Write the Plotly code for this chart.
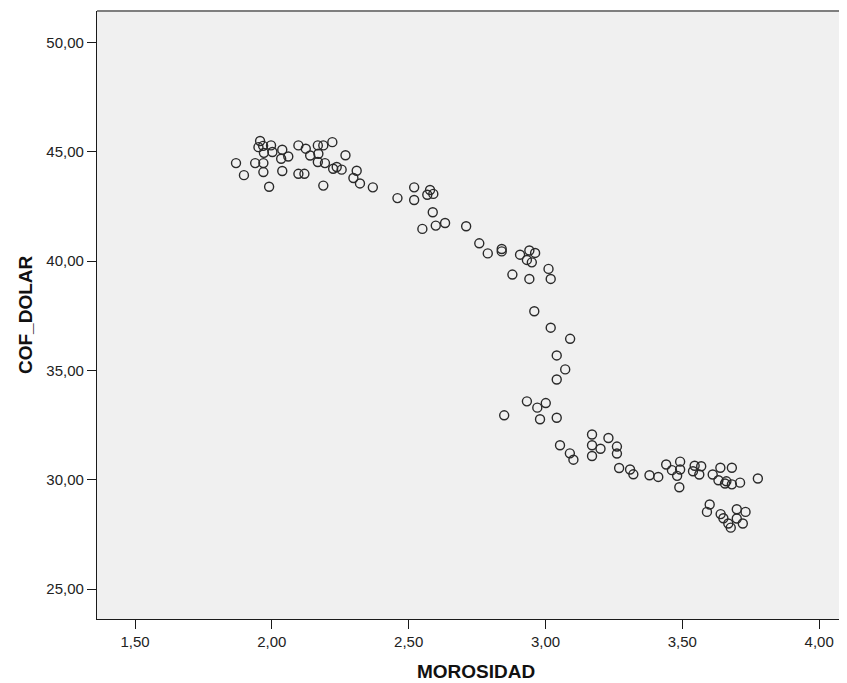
import plotly.graph_objects as go

# MOROSIDAD (x) and COF_DOLAR (y) values
morosidad = [
    1.869, 1.898, 1.939, 1.957, 1.951, 1.968, 1.971, 1.969, 1.969, 1.990,
    1.997, 2.002, 2.038, 2.034, 2.060, 2.038, 2.097, 2.124, 2.140, 2.097,
    2.119, 2.168, 2.188, 2.221, 2.170, 2.168, 2.194, 2.188, 2.224, 2.237,
    2.255, 2.269, 2.310, 2.298, 2.322, 2.369, 2.459, 2.520, 2.520, 2.578,
    2.568, 2.590, 2.588, 2.550, 2.599, 2.633, 2.710, 2.758, 2.789, 2.840,
    2.840, 2.907, 2.941, 2.962, 2.932, 2.950, 2.879, 2.941, 3.011, 3.019,
    2.959, 3.019, 3.090, 3.041, 3.072, 3.041, 2.932, 2.970, 3.001, 2.849,
    2.980, 3.041, 3.170, 3.230, 3.170, 3.201, 3.170, 3.053, 3.089, 3.102,
    3.261, 3.261, 3.269, 3.309, 3.321, 3.380, 3.412, 3.441, 3.462, 3.492,
    3.492, 3.481, 3.489, 3.545, 3.569, 3.539, 3.562, 3.611, 3.639, 3.681,
    3.632, 3.656, 3.661, 3.681, 3.711, 3.776, 3.600, 3.590, 3.640, 3.650,
    3.668, 3.677, 3.699, 3.731, 3.699, 3.721,
]
cof_dolar = [
    44.49, 43.94, 44.49, 45.50, 45.22, 45.28, 44.96, 44.49, 44.08, 43.41,
    45.30, 45.00, 45.10, 44.69, 44.79, 44.13, 45.30, 45.15, 44.84, 44.00,
    44.00, 45.30, 45.30, 45.45, 44.92, 44.54, 44.49, 43.46, 44.23, 44.31,
    44.19, 44.85, 44.14, 43.81, 43.56, 43.38, 42.89, 43.38, 42.80, 43.26,
    43.04, 43.08, 42.24, 41.48, 41.63, 41.75, 41.60, 40.82, 40.36, 40.56,
    40.45, 40.30, 40.49, 40.38, 40.06, 39.95, 39.39, 39.19, 39.65, 39.19,
    37.71, 36.96, 36.45, 35.69, 35.05, 34.59, 33.59, 33.30, 33.51, 32.95,
    32.77, 32.84, 32.07, 31.91, 31.58, 31.42, 31.09, 31.58, 31.21, 30.92,
    31.52, 31.20, 30.54, 30.47, 30.25, 30.21, 30.13, 30.70, 30.44, 30.83,
    30.47, 30.18, 29.66, 30.64, 30.62, 30.39, 30.24, 30.24, 30.55, 30.55,
    29.98, 29.83, 29.93, 29.79, 29.87, 30.06, 28.87, 28.53, 28.43, 28.24,
    28.00, 27.81, 28.65, 28.53, 28.23, 28.00,
]

x_ticks = [1.5, 2.0, 2.5, 3.0, 3.5, 4.0]
y_ticks = [25, 30, 35, 40, 45, 50]
x_title = "MOROSIDAD"
y_title = "COF_DOLAR"

FONT = "Liberation Sans, Arial, sans-serif"

fig = go.Figure()
fig.add_trace(go.Scatter(
    x=morosidad, y=cof_dolar, mode="markers",
    marker=dict(symbol="circle-open", size=9, color="#2a2a2a",
                line=dict(width=1.4, color="#2a2a2a")),
    showlegend=False, hoverinfo="x+y",
))

fig.update_layout(
    width=855, height=675,
    margin=dict(l=89, r=8, t=3, b=64),
    paper_bgcolor="white",
    plot_bgcolor="#f0f0f0",
    separators=",.",
    font=dict(family=FONT, size=15, color="#222222"),
    xaxis=dict(
        range=[1.361, 4.131], tickvals=x_ticks, tickformat=".2f",
        showgrid=False, zeroline=False,
        showline=True, linecolor="#1a1a1a", linewidth=1.3,
        ticks="outside", ticklen=9, tickwidth=1.3, tickcolor="#1a1a1a",
        tickfont=dict(size=15, color="#222222"),
    ),
    yaxis=dict(
        range=[23.63, 51.45], tickvals=y_ticks, tickformat=".2f",
        showgrid=False, zeroline=False,
        showline=True, linecolor="#1a1a1a", linewidth=1.3,
        ticks="outside", ticklen=9, tickwidth=1.3, tickcolor="#1a1a1a",
        tickfont=dict(size=15, color="#222222"),
    ),
    shapes=[dict(type="line", xref="paper", yref="paper", x0=0, x1=1, y0=1, y1=1,
                 line=dict(color="#7f7f7f", width=2))],
    annotations=[
        dict(text=f"<b>{x_title}</b>", xref="paper", yref="paper", x=0.5, y=0,
             yshift=-52, showarrow=False, font=dict(size=19, color="#111111"),
             xanchor="center", yanchor="middle"),
        dict(text=f"<b>{y_title}</b>", xref="paper", yref="paper", x=0, y=0.5,
             xshift=-72, showarrow=False, textangle=-90,
             font=dict(size=19, color="#111111"),
             xanchor="center", yanchor="middle"),
    ],
)

fig.write_html(
    "out.html",
    post_script="document.documentElement.style.overflow='hidden';"
                "document.body.style.overflow='hidden';",
)
